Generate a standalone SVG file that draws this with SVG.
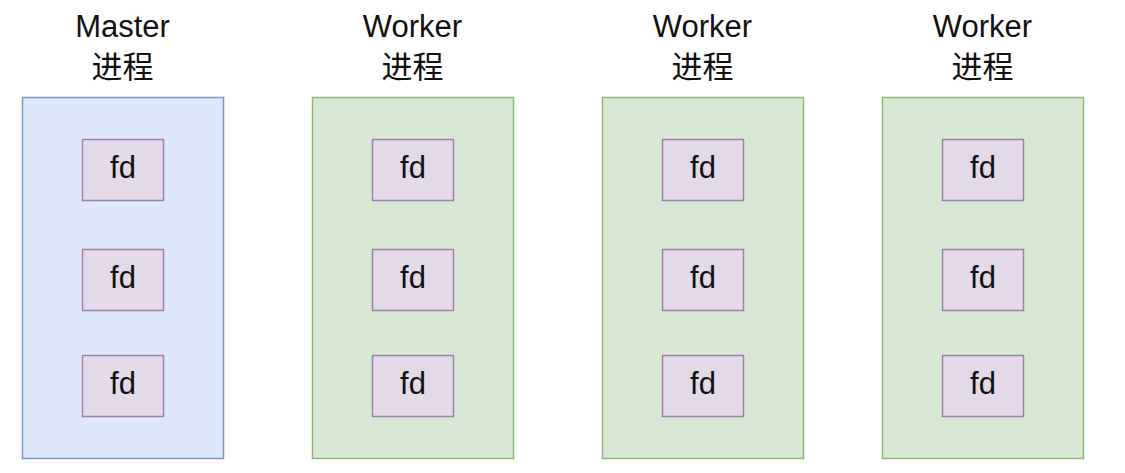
<svg xmlns="http://www.w3.org/2000/svg" width="1125" height="473" viewBox="0 0 1125 473">
<style>
.bg{fill:#ffffff}
.master{fill:#dfe7fa;stroke:#7c98c8;stroke-width:1.5}
.worker{fill:#d8e8d5;stroke:#8dba74;stroke-width:1.5}
.fd{fill:#e4d9e9;stroke:#9a82a8;stroke-width:1.5}
.title{font-family:"Liberation Sans","Noto Sans CJK SC",sans-serif;font-size:31px;fill:#111111;text-anchor:middle}
.fdt{font-family:"Liberation Sans",Arial,sans-serif;font-size:31px;fill:#111111;text-anchor:middle}
</style>
<rect class="bg" x="0" y="0" width="1125" height="473"/>
<g id="master">
<text class="title" x="122.5" y="37">Master</text>
<text class="title" x="122.5" y="78">进程</text>
<rect class="master" x="22.5" y="97.5" width="201" height="361"/>
</g>
<g id="worker1">
<text class="title" x="412.5" y="37">Worker</text>
<text class="title" x="412.5" y="78">进程</text>
<rect class="worker" x="312.5" y="97.5" width="201" height="361"/>
</g>
<g id="worker2">
<text class="title" x="702.5" y="37">Worker</text>
<text class="title" x="702.5" y="78">进程</text>
<rect class="worker" x="602.5" y="97.5" width="201" height="361"/>
</g>
<g id="worker3">
<text class="title" x="982.5" y="37">Worker</text>
<text class="title" x="982.5" y="78">进程</text>
<rect class="worker" x="882.5" y="97.5" width="201" height="361"/>
</g>
<g id="master-fd1"><rect class="fd" x="82.5" y="139.5" width="81" height="61"/><text class="fdt" x="123" y="178">fd</text></g>
<g id="master-fd2"><rect class="fd" x="82.5" y="249.5" width="81" height="61"/><text class="fdt" x="123" y="288">fd</text></g>
<g id="master-fd3"><rect class="fd" x="82.5" y="355.5" width="81" height="61"/><text class="fdt" x="123" y="394">fd</text></g>
<g id="worker1-fd1"><rect class="fd" x="372.5" y="139.5" width="81" height="61"/><text class="fdt" x="413" y="178">fd</text></g>
<g id="worker1-fd2"><rect class="fd" x="372.5" y="249.5" width="81" height="61"/><text class="fdt" x="413" y="288">fd</text></g>
<g id="worker1-fd3"><rect class="fd" x="372.5" y="355.5" width="81" height="61"/><text class="fdt" x="413" y="394">fd</text></g>
<g id="worker2-fd1"><rect class="fd" x="662.5" y="139.5" width="81" height="61"/><text class="fdt" x="703" y="178">fd</text></g>
<g id="worker2-fd2"><rect class="fd" x="662.5" y="249.5" width="81" height="61"/><text class="fdt" x="703" y="288">fd</text></g>
<g id="worker2-fd3"><rect class="fd" x="662.5" y="355.5" width="81" height="61"/><text class="fdt" x="703" y="394">fd</text></g>
<g id="worker3-fd1"><rect class="fd" x="942.5" y="139.5" width="81" height="61"/><text class="fdt" x="983" y="178">fd</text></g>
<g id="worker3-fd2"><rect class="fd" x="942.5" y="249.5" width="81" height="61"/><text class="fdt" x="983" y="288">fd</text></g>
<g id="worker3-fd3"><rect class="fd" x="942.5" y="355.5" width="81" height="61"/><text class="fdt" x="983" y="394">fd</text></g>
<g id="connectors"></g>
</svg>
